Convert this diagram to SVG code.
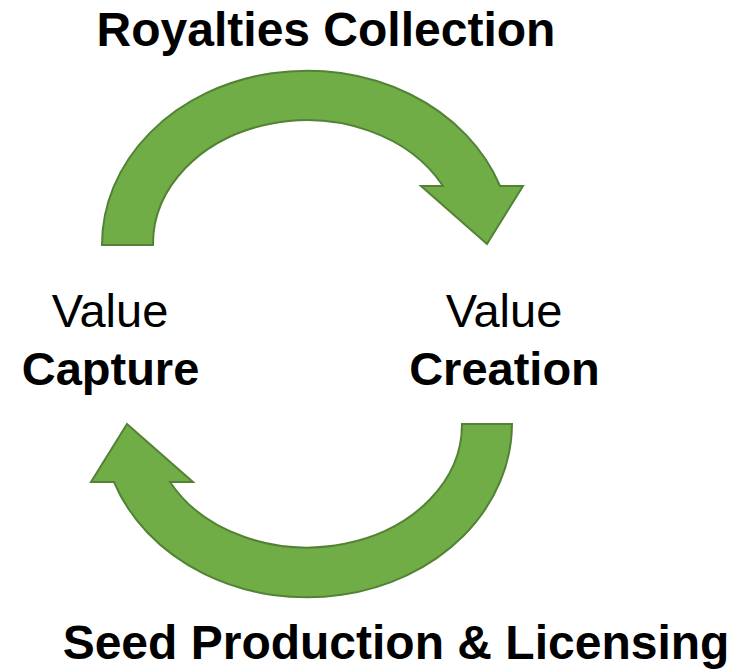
<svg xmlns="http://www.w3.org/2000/svg" width="734" height="671" viewBox="0 0 734 671">
  <style>
    .arrow { fill: #70AD47; stroke: #548235; stroke-width: 2; stroke-linejoin: miter; }
    .lbl { font-family: "Liberation Sans", Arial, sans-serif; font-size: 47px; fill: #000; text-anchor: middle; }
    .title { font-size: 48px; }
    .b { font-weight: bold; }
  </style>
  <rect width="734" height="671" fill="#fff"/>

  <g id="connectors">
    <!-- upper arc: Value Capture to Value Creation -->
    <path id="arc-royalties" class="arrow" d="M102,245 A205,174 0 0 1 500,186 L523,186 L487,244 L421,186 L443,186 A154,124 0 0 0 153,245 Z"/>
    <!-- lower arc: Value Creation back to Value Capture -->
    <path id="arc-seed" class="arrow" d="M512,424 A205,174 0 0 1 114,482 L91,482 L127,424 L193,482 L170,482 A155,123 0 0 0 462,424 Z"/>
  </g>

  <g id="label-royalties">
    <text class="lbl title b" x="326" y="46">Royalties Collection</text>
  </g>
  <g id="node-capture">
    <text class="lbl" x="110" y="327">Value</text>
    <text class="lbl b" x="110.5" y="385">Capture</text>
  </g>
  <g id="node-creation">
    <text class="lbl" x="504" y="327">Value</text>
    <text class="lbl b" x="504.5" y="385">Creation</text>
  </g>
  <g id="label-seed">
    <text class="lbl title b" x="396" y="659">Seed Production &amp; Licensing</text>
  </g>
</svg>
